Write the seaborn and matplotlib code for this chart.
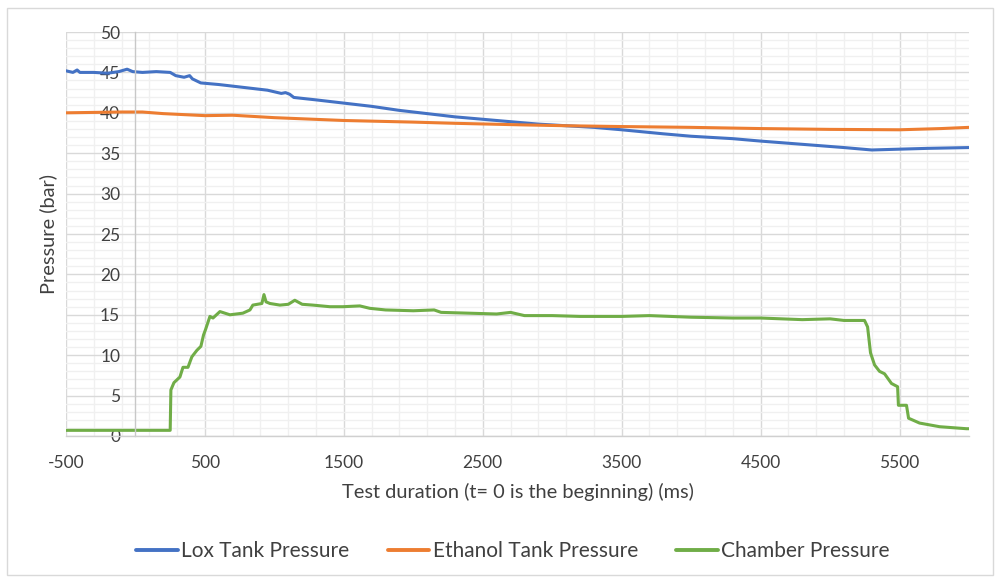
import matplotlib
matplotlib.use("Agg")
import matplotlib.pyplot as plt
from matplotlib.ticker import MultipleLocator
from matplotlib.patches import Rectangle
import seaborn as sns
import pandas as pd

# ---- data ----
lox_t = [-500, -450, -420, -400, -300, -200, -120, -60, -20, 50, 150, 250, 290, 350, 390, 410, 470,
         600, 800, 950, 1000, 1050, 1080, 1110, 1140, 1300, 1500, 1700, 1900, 2100, 2300, 2500,
         2700, 2900, 3100, 3300, 3500, 3800, 4000, 4300, 4500, 4800, 5100, 5300, 5500, 5700, 6000]
lox_p = [45.2, 45.0, 45.3, 45.0, 45.0, 44.9, 45.1, 45.4, 45.1, 45.0, 45.1, 45.0, 44.6, 44.4, 44.6, 44.2, 43.7,
         43.5, 43.1, 42.8, 42.6, 42.4, 42.5, 42.3, 41.9, 41.6, 41.2, 40.8, 40.3, 39.9, 39.5, 39.2,
         38.9, 38.6, 38.4, 38.2, 37.9, 37.4, 37.1, 36.8, 36.5, 36.1, 35.7, 35.4, 35.5, 35.6, 35.7]

eth_t = [-500, -300, -100, 50, 200, 500, 700, 900, 1000, 1500, 2000, 2300, 2800, 3100, 3500,
         4000, 4500, 5000, 5500, 5800, 6000]
eth_p = [40.0, 40.05, 40.1, 40.1, 39.9, 39.65, 39.7, 39.5, 39.4, 39.05, 38.85, 38.7, 38.5, 38.4, 38.3,
         38.2, 38.05, 37.95, 37.9, 38.05, 38.2]

ch_t = [-500, 0, 250, 255, 277, 320, 342, 378, 406, 442, 471, 490, 505, 536, 558, 608, 680, 773,
        824, 845, 910, 925, 940, 968, 1040, 1100, 1147, 1200, 1277, 1400, 1493, 1615, 1687, 1800,
        2000, 2150, 2200, 2400, 2600, 2700, 2800, 3000, 3200, 3500, 3700, 4000, 4300, 4500, 4800,
        5000, 5100, 5248, 5270, 5291, 5320, 5356,
        5392, 5442, 5486, 5492, 5550, 5565, 5644, 5788, 5982, 6000]
ch_p = [0.7, 0.7, 0.7, 5.7, 6.6, 7.3, 8.5, 8.5, 9.8, 10.6, 11.1, 12.5, 13.2, 14.8, 14.6, 15.4, 15.0, 15.2,
        15.6, 16.2, 16.4, 17.5, 16.6, 16.4, 16.2, 16.3, 16.8, 16.3, 16.2, 16.0, 16.0, 16.1, 15.8, 15.6,
        15.5, 15.6, 15.3, 15.2, 15.1, 15.3, 14.9, 14.9, 14.8, 14.8, 14.9, 14.7, 14.6, 14.6, 14.4,
        14.5, 14.3, 14.3, 13.5, 10.3, 8.8, 8.0,
        7.7, 6.5, 6.1, 3.8, 3.8, 2.2, 1.6, 1.15, 0.9, 0.9]

series_names = ["Lox Tank Pressure", "Ethanol Tank Pressure", "Chamber Pressure"]
colors = ["#4472C4", "#ED7D31", "#70AD47"]

df = pd.concat([
    pd.DataFrame({"t": lox_t, "p": lox_p, "series": series_names[0]}),
    pd.DataFrame({"t": eth_t, "p": eth_p, "series": series_names[1]}),
    pd.DataFrame({"t": ch_t, "p": ch_p, "series": series_names[2]}),
], ignore_index=True)

sns.set_theme(style="white")
plt.rcParams["font.family"] = ["Lato", "DejaVu Sans"]
plt.rcParams["axes.unicode_minus"] = False
text_color = "#404040"

fig = plt.figure(figsize=(10, 5.79), dpi=100)
ax = fig.add_axes([0.066, 0.247, 0.903, 0.6977])

sns.lineplot(data=df, x="t", y="p", hue="series", palette=dict(zip(series_names, colors)),
             estimator=None, sort=False, linewidth=2.2, ax=ax, legend=False)

ax.set_xlim(-500, 6000)
ax.set_ylim(0, 50)
ax.xaxis.set_major_locator(MultipleLocator(1000, offset=500))
ax.xaxis.set_minor_locator(MultipleLocator(200, offset=-500))
ax.yaxis.set_major_locator(MultipleLocator(5))
ax.yaxis.set_minor_locator(MultipleLocator(1))
ax.grid(which="major", color="#D9D9D9", linewidth=1.0)
ax.grid(which="minor", color="#F0F0F0", linewidth=1.0)
ax.set_axisbelow(True)

for s in ["top", "right"]:
    ax.spines[s].set_visible(False)
ax.spines["left"].set_position(("data", 0))
ax.spines["left"].set_color("#C8C8C8")
ax.spines["bottom"].set_color("#D0D0D0")
ax.spines["left"].set_linewidth(1.0)
ax.spines["bottom"].set_linewidth(1.0)

ax.tick_params(axis="both", which="both", length=0, labelsize=12.5, labelcolor=text_color)
ax.tick_params(axis="y", pad=11)
ax.tick_params(axis="x", pad=14)

ax.set_xlabel("Test duration (t= 0 is the beginning) (ms)", fontsize=14.4, color=text_color, va="center")
ax.xaxis.set_label_coords(0.5, -0.139)
ax.set_ylabel("Pressure (bar)", fontsize=14.4, color=text_color, va="center")
ax.yaxis.set_label_coords(-0.02, 0.5)

handles = [plt.Line2D([], [], color=c, linewidth=2.8) for c in colors]
fig.legend(handles, series_names, loc="center", bbox_to_anchor=(0.513, 0.048), ncol=3,
           frameon=False, fontsize=15, handlelength=2.0, handletextpad=0.15,
           columnspacing=1.85, labelcolor=text_color)

fig.patches.append(Rectangle((0.007, 0.007), 0.986, 0.979, transform=fig.transFigure,
                             fill=False, edgecolor="#D9D9D9", linewidth=1.0))

fig.savefig("out.png", dpi=100, facecolor="white")
